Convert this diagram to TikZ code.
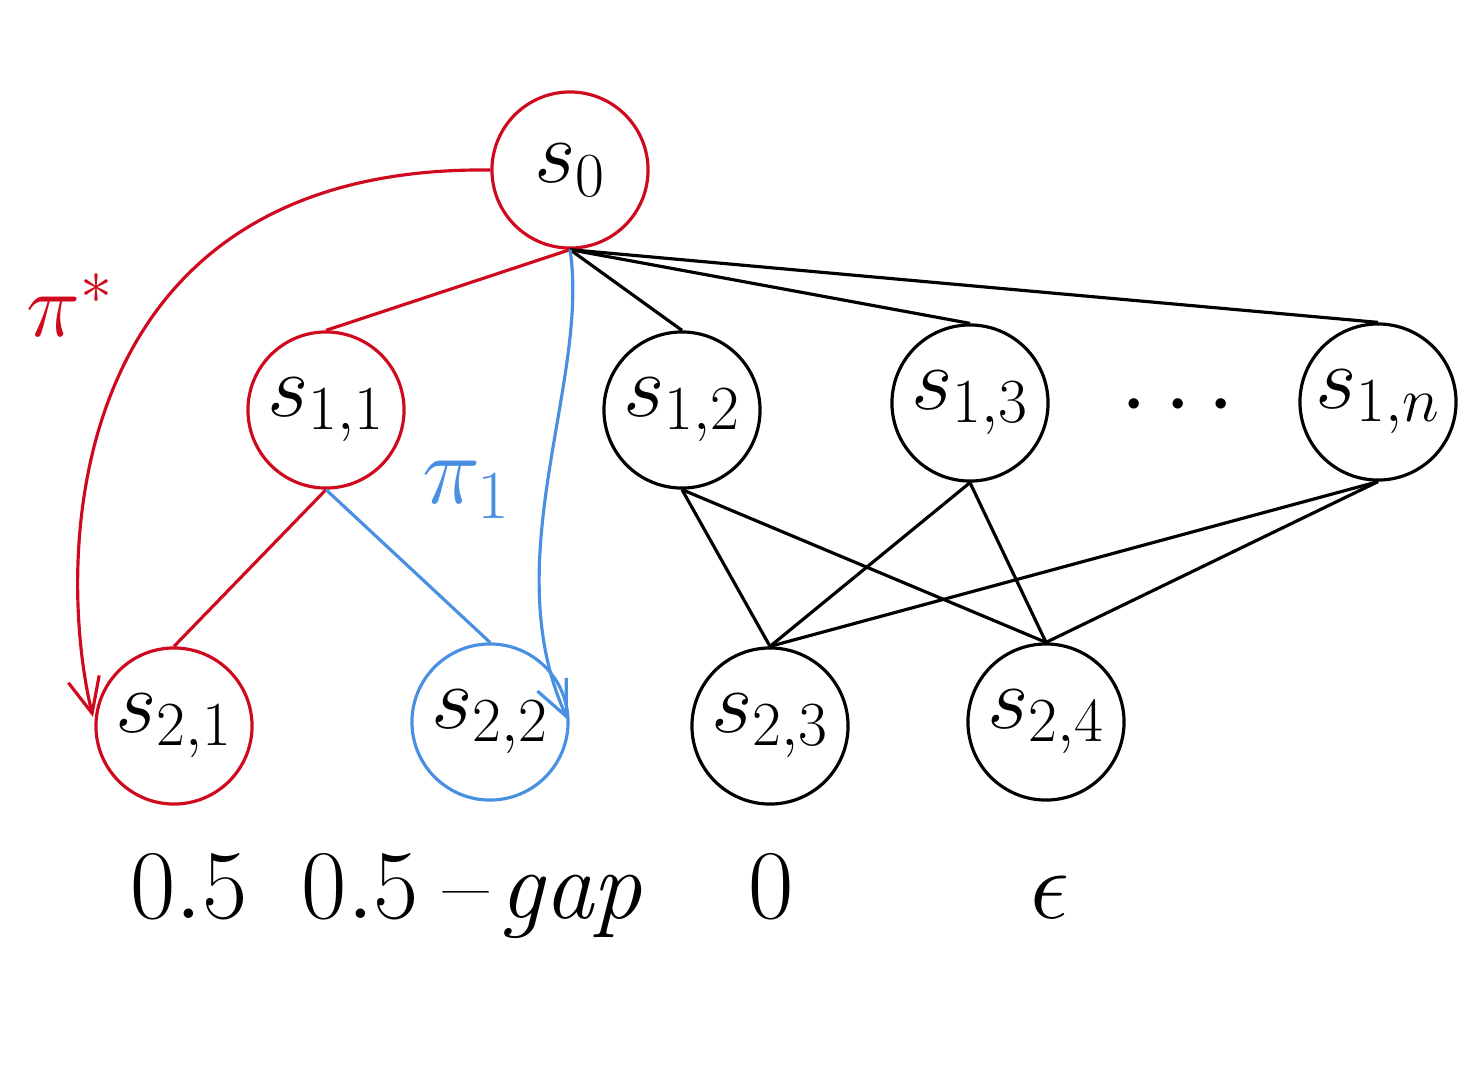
\RequirePackage{fix-cm}
\documentclass[tikz,border=0pt]{standalone}
\usetikzlibrary{arrows.meta}
\definecolor{myred}{RGB}{208,10,30}
\definecolor{myblue}{RGB}{74,144,226}
\begin{document}
\begin{tikzpicture}[x=0.01cm,y=-0.01cm,
  state/.style={circle,draw,line width=0.9pt,minimum size=1.56cm,inner sep=0pt,font=\fontsize{25.5}{30}\selectfont},
  edge/.style={line width=0.9pt},
  val/.style={anchor=base,font=\fontsize{28}{34}\selectfont},
  tip/.style={-{Straight Barb[length=10pt,width=9pt,line width=0.9pt]}}
]
\useasboundingbox (0,0) rectangle (1481,1069);
\node[state,myred] (s0) at (570,170) {\textcolor{black}{$s_0$}};
\node[state,myred] (s11) at (326,410) {\textcolor{black}{$s_{1,1}$}};
\node[state] (s12) at (682,410) {$s_{1,2}$};
\node[state] (s13) at (970,403) {$s_{1,3}$};
\node[state] (s1n) at (1378,402) {$s_{1,n}$};
\node[state,myred] (s21) at (174,726) {\textcolor{black}{$s_{2,1}$}};
\node[state,myblue] (s22) at (490,722) {\textcolor{black}{$s_{2,2}$}};
\node[state] (s23) at (770,726) {$s_{2,3}$};
\node[state] (s24) at (1046,722) {$s_{2,4}$};
\node[font=\fontsize{28}{34}\selectfont] (dots) at (1178,407) {$\cdots$};

\draw[edge,myred] (s0.south) -- (s11.north);
\draw[edge] (s0.south) -- (s12.north);
\draw[edge] (s0.south) -- (s13.north);
\draw[edge] (s0.south) -- (s1n.north);
\draw[edge,myred] (s11.south) -- (s21.north);
\draw[edge,myblue] (s11.south) -- (s22.north);
\foreach \a in {s12,s13,s1n}{
  \draw[edge] (\a.south) -- (s23.north);
  \draw[edge] (\a.south) -- (s24.north);
}

\coordinate (redend) at (93,717);
\coordinate (blueend) at (568,720);
\draw[edge,myred,tip] (s0.west) .. controls (60,165) and (55,560) .. (redend);
\draw[edge,myblue,tip] (s0.south) .. controls (590,380) and (495,560) .. (blueend);

\node[myred,font=\fontsize{26}{30}\selectfont] (lpi) at (70,305) {$\pi^*$};
\node[myblue,font=\fontsize{28}{32}\selectfont] (lpi1) at (467,490) {$\pi_1$};

\node[val] (v1) at (189,918) {$0.5$};
\node[val] (v2) at (475,918) {$0.5$\hspace{7pt}--\hspace{3pt}$\mathit{gap}$};
\node[val] (v3) at (771,918) {$0$};
\node[val] (v4) at (1050,918) {$\epsilon$};
\end{tikzpicture}
\end{document}
